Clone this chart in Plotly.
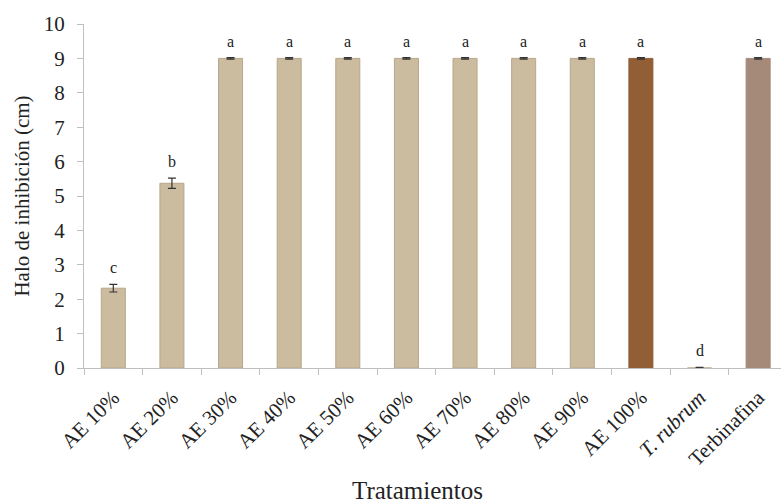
import plotly.graph_objects as go

categories = ["AE 10%", "AE 20%", "AE 30%", "AE 40%", "AE 50%", "AE 60%",
              "AE 70%", "AE 80%", "AE 90%", "AE 100%", "<i>T. rubrum</i>", "Terbinafina"]
values = [2.32, 5.37, 9.0, 9.0, 9.0, 9.0, 9.0, 9.0, 9.0, 9.0, 0.0, 9.0]
errors = [0.11, 0.15, 0.02, 0.02, 0.02, 0.02, 0.02, 0.02, 0.02, 0.02, 0.02, 0.02]
letters = ["c", "b", "a", "a", "a", "a", "a", "a", "a", "a", "d", "a"]

tan = "#CBBB9F"
colors = [tan] * 9 + ["#915E36", tan, "#A68A79"]
lines = ["#B8A688"] * 9 + ["#915E36", "#B8A688", "#A68A79"]

FONT = "Liberation Serif"

fig = go.Figure()
fig.add_trace(go.Bar(
    x=categories, y=values,
    marker=dict(color=colors, line=dict(color=lines, width=1)),
    width=0.41,
    error_y=dict(type="data", array=errors, visible=True,
                 color="#333333", thickness=1.2, width=4),
    showlegend=False,
))

for c, v, e, l in zip(categories, values, errors, letters):
    fig.add_annotation(x=c, y=v + e, text=l, showarrow=False,
                       yanchor="bottom", yshift=6,
                       font=dict(family=FONT, size=16, color="#222222"))

fig.add_annotation(xref="paper", yref="paper", x=(417 - 84) / 697, y=-(490 - 368) / 344,
                   text="Tratamientos", showarrow=False, xanchor="center", yanchor="middle",
                   font=dict(family=FONT, size=25, color="#222222"))

fig.update_layout(
    width=781, height=504,
    margin=dict(l=84, r=0, t=24, b=136),
    paper_bgcolor="white", plot_bgcolor="white",
    font=dict(family=FONT, size=20, color="#222222"),
)
fig.update_xaxes(
    type="category", range=[-0.5, 11.39], automargin=False,
    showline=True, linecolor="#BFBFBF", linewidth=1,
    ticks="outside", tickson="boundaries", ticklen=6, tickcolor="#BFBFBF",
    tickangle=-45, tickfont=dict(family=FONT, size=21), ticklabelstandoff=8,
    showgrid=False,
)
fig.update_yaxes(
    range=[0, 10], dtick=1, automargin=False,
    showline=True, linecolor="#BFBFBF", linewidth=1,
    ticks="outside", ticklen=6, tickcolor="#BFBFBF", ticklabelstandoff=8,
    tickfont=dict(family=FONT, size=21),
    title=dict(text="Halo de inhibición (cm)", font=dict(family=FONT, size=21), standoff=8),
    showgrid=False, zeroline=False,
)

fig.write_html("out.html", config={"displayModeBar": False},
               post_script="document.body.style.margin='0px';")
